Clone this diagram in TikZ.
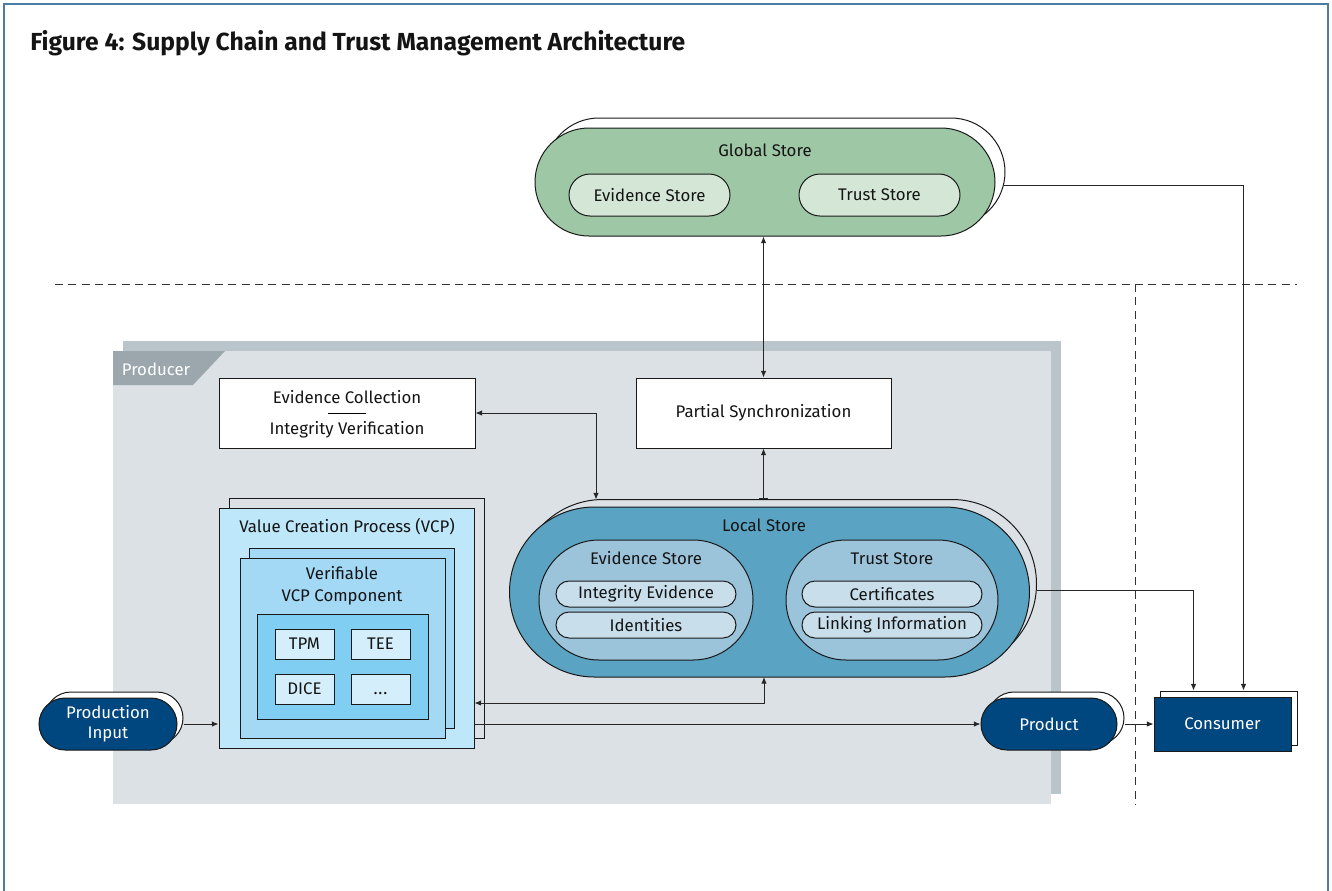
\documentclass[tikz,border=0pt]{standalone}
\usepackage{fontspec}
\setmainfont{Fira Sans}
\usetikzlibrary{arrows.meta,calc}
\definecolor{framec}{HTML}{4D7CA3}
\definecolor{prodbg}{HTML}{DCE1E5}
\definecolor{prodsh}{HTML}{B9C5CB}
\definecolor{prodtab}{HTML}{9BA7AD}
\definecolor{gsg}{HTML}{9EC7A5}
\definecolor{gsl}{HTML}{D4E7D7}
\definecolor{lsm}{HTML}{5AA3C3}
\definecolor{lsi}{HTML}{9BC3DA}
\definecolor{lss}{HTML}{C8DEEB}
\definecolor{vcpa}{HTML}{BFE7FA}
\definecolor{vcpb}{HTML}{A3D9F5}
\definecolor{vcpc}{HTML}{80CEF1}
\definecolor{vcpd}{HTML}{D4EEFB}
\definecolor{navy}{HTML}{00467F}
\def\u{0.75pt}
\begin{document}
\begin{tikzpicture}[x=0.75pt,y=-0.75pt,
  every node/.style={font=\fontsize{12.6}{15}\selectfont, inner sep=0pt, text=black!92},
  shp/.style={draw=black!90, line width=0.75pt},
  conn/.style={draw=black!85, line width=0.75pt},
  arr/.style={conn, -{Latex[length=5pt,width=4.2pt]}},
  darr/.style={conn, {Latex[length=5pt,width=4.2pt]}-{Latex[length=5pt,width=4.2pt]}},
  dsh/.style={draw=black!80, line width=0.75pt, dash pattern=on 6pt off 4pt},
  rbox/.style 2 args={shp, minimum width=#1*\u, minimum height=#2*\u},
  pillbox/.style 2 args={shp, minimum width=#1*\u, minimum height=#2*\u, rounded corners=#2*0.5*\u},
  wtext/.style={text=white}
]
\useasboundingbox (0,0) rectangle (1332,890);
\fill[white] (0,0) rectangle (1332,890);
% frame
\draw[framec, line width=1.5pt] (4,892) -- (4,3.5) -- (1328,3.5) -- (1328,892);
% title
\node[anchor=base west, font=\fontsize{18.5}{20}\selectfont\bfseries] (title) at (30,50) {Figure 4: Supply Chain and Trust Management Architecture};

% ---------- Global store ----------
\node[pillbox={460}{108}, fill=white] (gsback) at (775,172) {};
\node[pillbox={460}{108}, fill=gsg] (gs) at (765,182) {};
\node (gst) at (765,150) {Global Store};
\node[pillbox={161}{42}, fill=gsl] (gsev) at (649.5,195) {Evidence Store};
\node[pillbox={161}{42}, fill=gsl] (gstr) at (879.5,195) {Trust Store};

% ---------- separators ----------
\coordinate (dl) at (55,284);
\coordinate (dr) at (1297,284);
\coordinate (vt) at (1135,284);
\coordinate (vb) at (1135,805);
\draw[dsh] (dl) -- (dr);
\draw[dsh] (vt) -- (vb);

% ---------- Producer area ----------
\fill[prodsh] (123,341) rectangle (1061,794);
\fill[prodbg] (113,351) rectangle (1051,804);
\fill[prodtab] (113,351) -- (225,351) -- (193,385) -- (113,385) -- cycle;
\node[wtext] (prodlabel) at (156,369) {Producer};

% Evidence collection
\node[rbox={256}{70}, fill=white] (ec) at (347,413) {};
\node (ect1) at (347,397) {Evidence Collection};
\node (ect2) at (347,430) {Integrity Verification};
\draw[line width=0.6pt] (328,413) -- (366,413);

% Partial synchronization
\node[rbox={255}{70}, fill=white] (ps) at (763.5,413) {Partial Synchronization};

% Local store
\node[pillbox={518}{169}] (lsback) at (777.5,584) {};
\node[pillbox={520}{170}, fill=lsm] (ls) at (769.5,592) {};
\node (lst) at (764,525) {Local Store};
\node[pillbox={214}{120}, fill=lsi] (lsev) at (646,600) {};
\node[pillbox={212}{120}, fill=lsi] (lstr) at (892,600) {};
\node (lsevt) at (646,558) {Evidence Store};
\node (lstrt) at (892,559) {Trust Store};
\node[pillbox={180}{26}, fill=lss] (ie) at (646,594) {Integrity Evidence};
\node[pillbox={180}{26}, fill=lss] (id) at (646,625) {Identities};
\node[pillbox={180}{26}, fill=lss] (ce) at (892,594) {Certificates};
\node[pillbox={180}{26}, fill=lss] (li) at (892,625) {Linking Information};

% VCP
\node[rbox={255}{240}] (vcpback) at (356.5,618) {};
\node[rbox={255}{240}, fill=vcpa] (vcp) at (346.5,628) {};
\node (vcpt) at (347,527) {Value Creation Process (VCP)};
\node[rbox={205}{180}, fill=vcpb] (vcccback) at (351.5,638) {};
\node[rbox={205}{180}, fill=vcpb] (vccc) at (342.5,648) {};
\node[align=center, font=\fontsize{12.6}{16.5}\selectfont] (vccct) at (342,586) {Verifiable\\VCP Component};
\node[rbox={171}{105}, fill=vcpc] (hw) at (342.5,666.5) {};
\node[rbox={59}{30}, fill=vcpd] (tpm) at (304.5,644) {TPM};
\node[rbox={59}{30}, fill=vcpd] (tee) at (380.5,644) {TEE};
\node[rbox={59}{30}, fill=vcpd] (dice) at (304.5,689) {DICE};
\node[rbox={59}{30}, fill=vcpd] (etc) at (380.5,689) {\vphantom{DICE}.\kern0.6pt.\kern0.6pt.};

% Production input / product / consumer
\node[pillbox={138}{52}, fill=white] (pinback) at (114,718) {};
\node[pillbox={138}{52}, fill=navy, align=center, wtext, font=\fontsize{12.6}{15}\selectfont] (pin) at (108,724) {Production\\Input};
\node[pillbox={136}{52}, fill=white] (prodback) at (1056,718) {};
\node[pillbox={136}{52}, fill=navy, wtext] (prod) at (1049,724) {Product};
\node[rbox={137}{54}, fill=white] (consback) at (1228.5,718) {};
\node[rbox={137}{54}, fill=navy, wtext] (cons) at (1222.5,724) {Consumer};

% ---------- connectors ----------
\draw[darr] (ps.north) -- (ps.north |- gs.south);
\draw[conn, {Latex[length=5pt,width=4.2pt]}-{Bar[width=7pt]}] (ps.south) -- (ps.south |- lsback.north);
\coordinate (ecls) at (596,499.5);
\draw[darr] (ec.east) -| (ecls);
\draw[arr] ($(gsback.east)+(-1.5,13)$) -| ($(consback.north west)+(84,0)$);
\draw[arr] ($(lsback.east)+(-0.2,6)$) -| ($(consback.north west)+(34,0)$);
\coordinate (y703) at (0,703);
\coordinate (lsb) at (764,677);
\draw[darr] (vcp.east |- y703) -| (lsb);
\draw[arr] (vcp.east |- prod.west) -- (prod.west);
\draw[arr] (pinback.east |- pin.east) -- (vcp.west |- pin.east);
\draw[arr] (prodback.east |- prod.east) -- (cons.west);
\end{tikzpicture}
\end{document}
